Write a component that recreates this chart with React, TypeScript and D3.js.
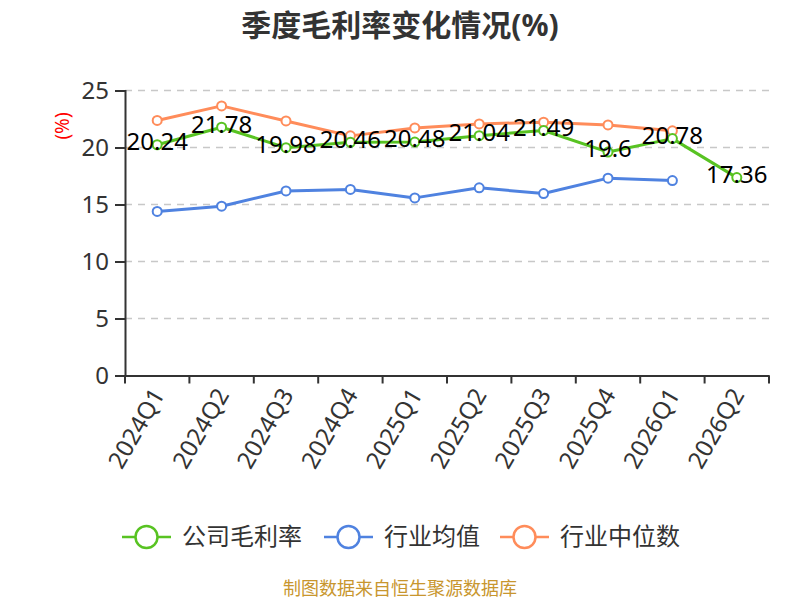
import { useRef, useEffect } from "react";
import * as d3 from "d3";

const quarters = ["2024Q1", "2024Q2", "2024Q3", "2024Q4", "2025Q1", "2025Q2", "2025Q3", "2025Q4", "2026Q1", "2026Q2"];
const companyMargin = [20.24, 21.78, 19.98, 20.46, 20.48, 21.04, 21.49, 19.6, 20.78, 17.36];
const industryMean = [14.39, 14.85, 16.19, 16.32, 15.58, 16.46, 15.96, 17.31, 17.1, null];
const industryMedian = [22.37, 23.65, 22.33, 21.02, 21.72, 22.07, 22.22, 21.98, 21.46, null];
const yTicks = [0, 5, 10, 15, 20, 25];
const seriesNames = ["公司毛利率", "行业均值", "行业中位数"];
const seriesColors = ["#58c322", "#4f82e0", "#ff8c5a"];

const FONT = "'Noto Sans', 'Noto Sans CJK SC', sans-serif";

export default function App() {
  const ref = useRef<SVGSVGElement>(null);

  useEffect(() => {
    const svg = d3.select(ref.current);
    svg.selectAll("*").remove();

    const left = 125;
    const right = 769;
    const top = 90.5;
    const bottom = 375.5;

    const x = d3.scaleBand().domain(quarters).range([left, right]);
    const y = d3.scaleLinear().domain([0, 25]).range([bottom, top]);
    const cx = (q: string) => (x(q) as number) + x.bandwidth() / 2;

    // title
    svg
      .append("text")
      .attr("x", 400)
      .attr("y", 36)
      .attr("text-anchor", "middle")
      .attr("font-size", 30)
      .attr("font-weight", "bold")
      .attr("fill", "#333")
      .attr("font-family", FONT)
      .text("季度毛利率变化情况(%)");

    // y axis unit
    svg
      .append("text")
      .attr("transform", "translate(69,126) rotate(-90)")
      .attr("text-anchor", "middle")
      .attr("font-size", 19)
      .attr("fill", "#ff0000")
      .attr("font-family", FONT)
      .text("(%)");

    // grid lines
    svg
      .append("g")
      .selectAll("line")
      .data(yTicks.filter((t) => t > 0))
      .enter()
      .append("line")
      .attr("x1", left)
      .attr("x2", right)
      .attr("y1", (d) => y(d))
      .attr("y2", (d) => y(d))
      .attr("stroke", "#c8c8c8")
      .attr("stroke-width", 1.5)
      .attr("stroke-dasharray", "7,6");

    // y axis
    const yAxis = svg
      .append("g")
      .attr("transform", `translate(${left},0)`)
      .call(d3.axisLeft(y).tickValues(yTicks).tickSize(10).tickPadding(6));
    yAxis.select(".domain").attr("stroke", "#333").attr("stroke-width", 2);
    yAxis.selectAll(".tick line").attr("stroke", "#333").attr("stroke-width", 2);
    yAxis
      .selectAll(".tick text")
      .attr("font-size", 24)
      .attr("fill", "#333")
      .attr("font-family", FONT);

    // x axis
    const xAxis = svg
      .append("g")
      .attr("transform", `translate(0,${bottom})`)
      .call(d3.axisBottom(x).tickSize(0).tickSizeOuter(0).tickPadding(0));
    xAxis.select(".domain").attr("stroke", "#333").attr("stroke-width", 2);
    xAxis
      .selectAll(".tick text")
      .attr("font-size", 24)
      .attr("fill", "#333")
      .attr("font-family", FONT)
      .attr("text-anchor", "end")
      .attr("dy", "0.35em")
      .attr("transform", "translate(1,15) rotate(-60)");
    // band boundary ticks
    xAxis
      .append("g")
      .selectAll("line")
      .data([...quarters.map((q) => x(q) as number), right])
      .enter()
      .append("line")
      .attr("x1", (d) => d)
      .attr("x2", (d) => d)
      .attr("y1", 0)
      .attr("y2", 8)
      .attr("stroke", "#333")
      .attr("stroke-width", 2);

    const allSeries = [companyMargin, industryMean, industryMedian];
    const drawOrder = [1, 2, 0];

    drawOrder.forEach((si) => {
      const values = allSeries[si];
      const pts = quarters
        .map((q, i) => ({ q, v: values[i] }))
        .filter((d) => d.v !== null) as { q: string; v: number }[];
      const line = d3
        .line<{ q: string; v: number }>()
        .x((d) => cx(d.q))
        .y((d) => y(d.v));
      svg
        .append("path")
        .datum(pts)
        .attr("d", line)
        .attr("fill", "none")
        .attr("stroke", seriesColors[si])
        .attr("stroke-width", 3)
        .attr("stroke-linejoin", "round");
      svg
        .append("g")
        .selectAll("circle")
        .data(pts)
        .enter()
        .append("circle")
        .attr("cx", (d) => cx(d.q))
        .attr("cy", (d) => y(d.v))
        .attr("r", 4.5)
        .attr("fill", "#fff")
        .attr("stroke", seriesColors[si])
        .attr("stroke-width", 2);
    });

    // data labels for company margin
    svg
      .append("g")
      .selectAll("text")
      .data(quarters.map((q, i) => ({ q, v: companyMargin[i] })))
      .enter()
      .append("text")
      .attr("x", (d) => cx(d.q))
      .attr("y", (d) => y(d.v) - 3)
      .attr("dy", "0.35em")
      .attr("text-anchor", "middle")
      .attr("font-size", 24)
      .attr("fill", "#000")
      .attr("font-family", FONT)
      .text((d) => String(d.v));

    // legend
    const legendX = [122, 324, 500];
    const legendY = 537;
    const lg = svg.append("g");
    seriesNames.forEach((name, i) => {
      const g = lg.append("g").attr("transform", `translate(${legendX[i]},${legendY})`);
      g.append("line")
        .attr("x1", 0)
        .attr("x2", 49)
        .attr("y1", 0)
        .attr("y2", 0)
        .attr("stroke", seriesColors[i])
        .attr("stroke-width", 2.5);
      g.append("circle")
        .attr("cx", 24.5)
        .attr("cy", 0)
        .attr("r", 11)
        .attr("fill", "#fff")
        .attr("stroke", seriesColors[i])
        .attr("stroke-width", 2.5);
      g.append("text")
        .attr("x", 60)
        .attr("y", 0)
        .attr("dy", "0.35em")
        .attr("font-size", 24)
        .attr("fill", "#333")
        .attr("font-family", FONT)
        .text(name);
    });

    // source
    svg
      .append("text")
      .attr("x", 400)
      .attr("y", 589)
      .attr("dy", "0.35em")
      .attr("text-anchor", "middle")
      .attr("font-size", 18)
      .attr("fill", "#c8962e")
      .attr("font-family", FONT)
      .text("制图数据来自恒生聚源数据库");
  }, []);

  return (
    <div style={{ position: "fixed", left: 0, top: 0 }}>
      <svg ref={ref} width={800} height={600} style={{ display: "block", background: "#fff" }} />
    </div>
  );
}
